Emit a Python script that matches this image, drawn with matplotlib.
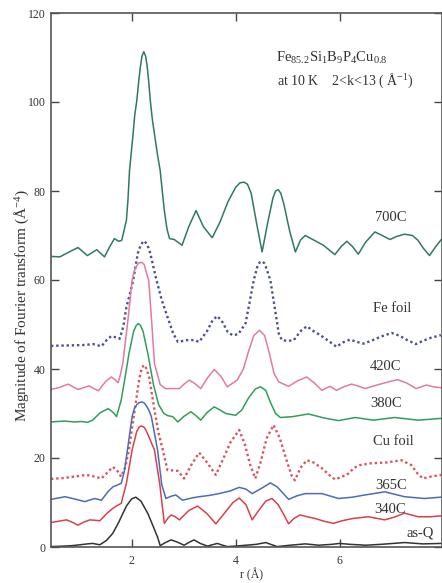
import numpy as np
import matplotlib
matplotlib.use("Agg")
import matplotlib.pyplot as plt

plt.rcParams['font.family'] = ['Liberation Serif', 'DejaVu Serif']
plt.rcParams['mathtext.fontset'] = 'custom'
plt.rcParams['mathtext.rm'] = 'Liberation Serif'
plt.rcParams['mathtext.it'] = 'Liberation Serif:italic'

# curves (r in Angstrom, magnitude incl. vertical offset)
r_700 = [0.45, 0.62, 0.80, 0.97, 1.15, 1.33, 1.48, 1.58, 1.67, 1.75, 1.81, 1.90, 1.93, 1.96,
         2.03, 2.06, 2.10, 2.14, 2.17, 2.20, 2.235, 2.27, 2.30, 2.33, 2.36, 2.40, 2.45, 2.50,
         2.55, 2.59, 2.63, 2.68, 2.73, 2.82, 2.97, 3.10, 3.24, 3.38, 3.55, 3.70, 3.85, 4.00,
         4.08, 4.16, 4.23, 4.30, 4.40, 4.51, 4.62, 4.72, 4.77, 4.82, 4.87, 4.93, 5.04, 5.15,
         5.25, 5.34, 5.50, 5.69, 5.91, 6.03, 6.14, 6.25, 6.36, 6.50, 6.68, 6.82, 6.97, 7.10,
         7.25, 7.40, 7.51, 7.62, 7.73, 7.85, 7.95]
y_700 = [65.3, 65.2, 66.3, 67.3, 65.5, 66.8, 65.2, 67.5, 69.3, 68.7, 68.9, 73.4, 78.0, 84.6,
         93.0, 97.0, 100.3, 105.0, 108.0, 110.3, 111.3, 110.3, 108.0, 104.5, 100.3, 96.0, 92.0, 88.0,
         84.6, 80.0, 75.6, 71.5, 69.3, 69.1, 67.8, 72.0, 75.6, 72.0, 69.5, 73.0, 77.5, 80.8,
         81.8, 82.0, 81.5, 79.5, 73.0, 66.3, 73.0, 78.5, 80.0, 80.3, 79.5, 77.0, 71.0, 66.3,
         69.0, 70.0, 69.0, 67.8, 65.7, 67.5, 68.7, 67.5, 65.8, 68.5, 70.8, 70.0, 69.1, 69.8,
         70.3, 70.0, 68.9, 67.0, 65.5, 67.5, 69.0]

r_fe = [0.45, 0.80, 1.10, 1.26, 1.42, 1.52, 1.61, 1.70, 1.77, 1.84, 1.90, 1.97, 2.03, 2.12,
        2.18, 2.24, 2.30, 2.36, 2.48, 2.58, 2.69, 2.80, 2.89, 3.08, 3.20, 3.30, 3.45, 3.56,
        3.65, 3.75, 3.85, 3.94, 4.05, 4.19, 4.27, 4.35, 4.43, 4.47, 4.51, 4.55, 4.58, 4.67,
        4.75, 4.83, 4.89, 5.00, 5.12, 5.25, 5.37, 5.50, 5.63, 5.80, 5.94, 6.07, 6.20, 6.33,
        6.46, 6.60, 6.80, 7.00, 7.15, 7.30, 7.47, 7.60, 7.75, 7.95]
y_fe = [45.2, 45.3, 45.4, 45.6, 45.1, 46.5, 47.4, 47.1, 46.8, 49.5, 53.9, 57.0, 59.9, 66.0,
        68.0, 68.8, 68.0, 66.0, 59.9, 55.5, 51.7, 48.0, 46.1, 46.5, 46.5, 46.1, 48.5, 51.0,
        51.9, 50.5, 48.3, 47.6, 47.8, 50.2, 55.0, 60.0, 63.5, 64.0, 64.2, 63.8, 63.0, 59.9,
        54.0, 48.0, 46.5, 46.3, 46.5, 48.5, 49.6, 48.5, 47.6, 46.2, 45.0, 46.0, 46.6, 46.1,
        45.7, 46.3, 47.3, 48.1, 47.5, 46.5, 45.6, 46.3, 47.0, 47.6]

r_420 = [0.45, 0.60, 0.78, 0.97, 1.18, 1.36, 1.50, 1.61, 1.68, 1.74, 1.78, 1.83, 1.92, 2.01,
         2.05, 2.10, 2.14, 2.19, 2.24, 2.27, 2.33, 2.39, 2.44, 2.55, 2.65, 2.73, 2.92, 3.01,
         3.11, 3.22, 3.33, 3.46, 3.59, 3.72, 3.84, 4.03, 4.15, 4.25, 4.35, 4.46, 4.56, 4.65,
         4.74, 4.83, 5.02, 5.20, 5.37, 5.52, 5.66, 5.74, 5.82, 5.94, 6.08, 6.23, 6.35, 6.49,
         6.75, 7.00, 7.12, 7.30, 7.47, 7.67, 7.80, 7.95]
y_420 = [35.4, 35.8, 36.6, 35.4, 36.2, 35.1, 37.2, 38.2, 37.6, 36.9, 38.5, 41.2, 50.0, 59.9,
         62.0, 63.2, 63.8, 64.0, 63.5, 62.3, 59.9, 50.0, 41.2, 36.5, 35.6, 35.6, 35.6, 36.6,
         37.5, 36.7, 35.6, 38.0, 39.9, 38.3, 36.0, 37.5, 40.0, 44.0, 47.5, 48.7, 47.5, 43.5,
         39.0, 37.1, 36.1, 37.4, 38.2, 36.8, 35.2, 35.7, 36.1, 35.2, 36.0, 36.6, 36.2, 35.6,
         36.5, 37.3, 37.6, 36.8, 35.6, 36.4, 36.0, 35.8]

r_380 = [0.45, 0.70, 0.90, 1.05, 1.15, 1.25, 1.40, 1.55, 1.65, 1.71, 1.80, 1.88, 1.95, 2.04,
         2.09, 2.13, 2.17, 2.22, 2.32, 2.42, 2.52, 2.62, 2.70, 2.79, 2.89, 3.00, 3.14, 3.24,
         3.33, 3.45, 3.59, 3.70, 3.81, 4.00, 4.12, 4.25, 4.38, 4.48, 4.58, 4.67, 4.77, 4.86,
         5.10, 5.40, 5.70, 5.98, 6.30, 6.65, 7.06, 7.51, 7.95]
y_380 = [28.1, 28.3, 28.1, 28.2, 28.0, 28.5, 30.2, 31.1, 30.2, 29.3, 33.0, 38.5, 43.5, 48.5,
         49.8, 50.2, 49.8, 48.5, 43.0, 36.5, 32.0, 30.0, 29.5, 29.3, 28.1, 29.3, 30.4, 29.5,
         28.5, 30.2, 31.5, 30.8, 30.0, 29.6, 30.8, 33.5, 35.5, 36.0, 35.2, 32.5, 30.0, 29.1,
         29.3, 29.9, 29.0, 28.4, 29.1, 28.5, 29.1, 28.5, 28.9]

r_cu = [0.45, 0.70, 0.95, 1.13, 1.30, 1.42, 1.54, 1.64, 1.72, 1.80, 1.88, 1.95, 2.06, 2.15,
        2.20, 2.24, 2.29, 2.34, 2.44, 2.52, 2.60, 2.69, 2.80, 2.89, 3.01, 3.15, 3.30, 3.45,
        3.62, 3.75, 3.90, 4.07, 4.18, 4.28, 4.38, 4.48, 4.60, 4.73, 4.85, 4.98, 5.08, 5.14,
        5.25, 5.37, 5.50, 5.66, 5.80, 5.91, 6.05, 6.17, 6.28, 6.39, 6.60, 6.90, 7.19, 7.38,
        7.50, 7.60, 7.75, 7.95]
y_cu = [15.3, 15.5, 15.9, 16.2, 15.8, 15.4, 16.8, 18.0, 17.2, 15.8, 18.0, 22.0, 30.8, 38.0,
        40.3, 40.9, 40.0, 38.0, 30.8, 25.5, 21.8, 17.3, 17.2, 17.1, 15.4, 18.5, 21.2, 19.0,
        16.2, 19.5, 23.5, 26.3, 23.0, 18.5, 15.4, 19.0, 24.5, 27.4, 24.5, 19.5, 16.0, 15.0,
        17.8, 19.5, 19.0, 17.7, 16.2, 15.2, 15.8, 16.5, 17.8, 18.4, 18.8, 19.0, 19.5, 18.4,
        16.5, 15.4, 15.8, 16.2]

r_365 = [0.45, 0.72, 0.90, 1.10, 1.29, 1.42, 1.55, 1.64, 1.80, 1.86, 1.92, 2.01, 2.05, 2.10,
         2.14, 2.19, 2.24, 2.28, 2.33, 2.38, 2.50, 2.58, 2.66, 2.76, 2.85, 2.98, 3.15, 3.30,
         3.50, 3.68, 3.90, 4.07, 4.20, 4.32, 4.50, 4.67, 4.80, 4.92, 5.02, 5.18, 5.34, 5.66,
         5.98, 6.25, 6.49, 6.87, 7.25, 7.63, 7.95]
y_365 = [10.7, 11.3, 10.8, 10.2, 10.9, 10.5, 12.5, 13.5, 14.3, 17.0, 21.8, 29.3, 31.0, 32.0,
         32.4, 32.6, 32.4, 31.8, 30.8, 29.3, 21.8, 14.0, 10.9, 11.4, 11.7, 10.5, 11.0, 11.3,
         11.6, 12.0, 12.6, 13.4, 13.0, 12.0, 13.2, 14.4, 13.5, 12.0, 10.7, 11.5, 12.0, 12.0,
         10.9, 11.2, 11.7, 12.4, 11.3, 10.9, 11.2]

r_340 = [0.45, 0.60, 0.75, 0.87, 0.97, 1.08, 1.20, 1.39, 1.52, 1.64, 1.72, 1.80, 1.90, 2.01,
         2.10, 2.15, 2.19, 2.24, 2.28, 2.36, 2.44, 2.54, 2.63, 2.70, 2.76, 2.84, 2.92, 3.10,
         3.27, 3.45, 3.62, 3.80, 3.95, 4.07, 4.20, 4.32, 4.45, 4.58, 4.70, 4.82, 4.93, 5.02,
         5.12, 5.24, 5.38, 5.53, 5.70, 5.88, 6.05, 6.25, 6.55, 6.87, 7.05, 7.25, 7.51, 7.75,
         7.95]
y_340 = [5.5, 5.8, 6.1, 5.5, 4.9, 5.6, 6.1, 5.9, 7.5, 8.7, 9.3, 9.8, 14.3, 21.8,
         26.0, 27.0, 27.2, 26.9, 26.2, 24.0, 21.8, 14.3, 5.3, 6.5, 7.2, 6.8, 6.1, 8.2,
         9.2, 7.5, 5.2, 7.8, 10.0, 11.0, 9.5, 6.1, 8.3, 10.3, 10.9, 9.5, 7.2, 5.2,
         6.4, 7.2, 6.8, 6.4, 5.8, 5.3, 5.9, 6.4, 6.8, 6.1, 6.7, 7.6, 6.8, 6.8,
         7.0]

r_asq = [0.45, 0.70, 0.85, 1.01, 1.15, 1.25, 1.39, 1.52, 1.64, 1.75, 1.90, 2.00, 2.08, 2.18,
         2.31, 2.42, 2.50, 2.55, 2.65, 2.76, 2.88, 3.01, 3.10, 3.20, 3.32, 3.46, 3.55, 3.65,
         3.75, 3.84, 4.00, 4.20, 4.40, 4.58, 4.70, 4.80, 5.05, 5.34, 5.60, 5.85, 6.00, 6.20,
         6.50, 6.80, 7.25, 7.60, 7.95]
y_asq = [0.1, 0.2, 0.3, 0.5, 0.7, 0.8, 0.5, 1.5, 3.1, 5.5, 9.2, 10.8, 11.2, 10.3,
         7.6, 4.5, 2.2, 0.3, 1.0, 1.6, 1.1, 0.4, 1.0, 1.6, 0.8, 0.2, 0.5, 0.8,
         0.4, 0.1, 0.2, 0.4, 0.6, 1.0, 0.5, 0.1, 0.4, 0.7, 0.4, 0.6, 0.8, 0.6,
         0.4, 0.6, 1.0, 0.7, 0.8]

names = ['700C', 'Fe foil', '420C', '380C', 'Cu foil', '365C', '340C', 'as-Q']

fig = plt.figure(figsize=(4.42, 5.83), dpi=100)
ax = fig.add_axes([51 / 442, 36 / 583, 391 / 442, 534 / 583])

solid = dict(lw=1.1, solid_joinstyle='round')
dotted = dict(lw=1.7, ls=(0, (1, 1.2)), dash_capstyle='butt')
ax.plot(r_700, y_700, color='#2f7a5e', **solid)
ax.plot(r_fe, y_fe, color='#4b5190', **dotted)
ax.plot(r_420, y_420, color='#e27aa3', **solid)
ax.plot(r_380, y_380, color='#2f9e5c', **solid)
ax.plot(r_cu, y_cu, color='#d8545f', **dotted)
ax.plot(r_365, y_365, color='#4b6db3', **solid)
ax.plot(r_340, y_340, color='#d9414b', **solid)
ax.plot(r_asq, y_asq, color='#333333', **solid)

label_xy = [(6.99, 74.1), (7.01, 53.6), (6.89, 40.6), (6.89, 32.3),
            (7.03, 23.8), (6.99, 13.9), (6.97, 8.5), (7.56, 3.1)]
for name, (lx, ly) in zip(names, label_xy):
    ax.text(lx, ly, name, ha='center', va='center', fontsize=10.5, color='#333333')

ax.text(4.77, 110.0, r'Fe$_{85.2}$Si$_{1}$B$_{9}$P$_{4}$Cu$_{0.8}$',
        ha='left', va='center', fontsize=10.5, color='#333333')
ax.text(4.79, 104.8, 'at 10 K    2<k<13 ( Å$^{-1}$)',
        ha='left', va='center', fontsize=10, color='#333333')

ax.set_xlim(0.45, 7.97)
ax.set_ylim(0, 120)
ax.set_xticks([2, 4, 6])
ax.set_yticks([0, 20, 40, 60, 80, 100, 120])
ax.tick_params(direction='in', length=6, width=1, colors='#444444',
               labelcolor='#333333', labelsize=8.5, top=True, right=True)
ax.tick_params(axis='x', pad=6)
ax.tick_params(axis='y', pad=4)
for s in ax.spines.values():
    s.set_color('#555555')
    s.set_linewidth(1.2)

fig.text(22 / 442, 1 - 306 / 583, 'Magnitude of Fourier transform (Å$^{-4}$)',
         rotation=90, ha='center', va='center', fontsize=11, color='#333333')
fig.text(251 / 442, 1 - 575 / 583, 'r (Å)', ha='center', va='center',
         fontsize=8.5, color='#333333')

fig.savefig('out.png', dpi=100)
